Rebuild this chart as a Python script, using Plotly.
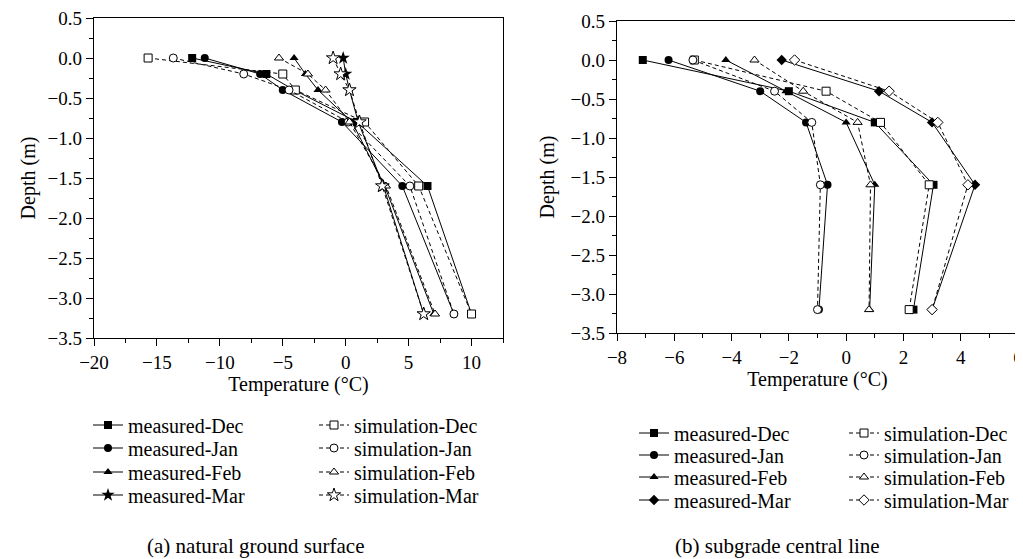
import plotly.graph_objects as go
from plotly.subplots import make_subplots

# (a) natural ground surface
depth_a = [0, -0.2, -0.4, -0.8, -1.6, -3.2]
meas_dec_a = [-12.2, -6.3, -4.1, 0.9, 6.5, 10.0]
sim_dec_a = [-15.7, -5.0, -4.0, 1.5, 5.8, 10.0]
meas_jan_a = [-11.2, -6.8, -5.0, -0.3, 4.5, 8.6]
sim_jan_a = [-13.7, -8.1, -4.5, 0.2, 5.1, 8.6]
meas_feb_a = [-4.1, -3.2, -2.2, 0.5, 3.1, 7.0]
sim_feb_a = [-5.3, -3.0, -1.6, 0.3, 3.2, 7.1]
meas_mar_a = [-0.2, 0.0, 0.3, 1.0, 3.0, 6.2]
sim_mar_a = [-1.0, -0.4, 0.3, 1.1, 2.9, 6.2]

# (b) subgrade central line
depth_b = [0, -0.4, -0.8, -1.6, -3.2]
meas_dec_b = [-7.1, -2.0, 1.0, 3.05, 2.35]
sim_dec_b = [-5.3, -0.7, 1.2, 2.9, 2.2]
meas_jan_b = [-6.2, -3.0, -1.4, -0.65, -0.95]
sim_jan_b = [-5.35, -2.5, -1.2, -0.9, -1.0]
meas_feb_b = [-4.2, -2.1, 0.0, 1.0, 0.82]
sim_feb_b = [-3.2, -1.5, 0.4, 0.85, 0.8]
meas_mar_b = [-2.25, 1.15, 3.0, 4.5, 3.0]
sim_mar_b = [-1.8, 1.5, 3.2, 4.25, 3.0]

months = ["Dec", "Jan", "Feb", "Mar"]
sym_a = ["square", "circle", "triangle-up", "star"]
sym_b = ["square", "circle", "triangle-up", "diamond"]

FONT = "Liberation Serif"
# the page body has an 8px margin, so the figure is 8px smaller each way
OFF = 8
W, H = 1023 - OFF, 559 - OFF


def fx(px):
    return (px - OFF) / W


def fy(py):
    return 1 - (py - OFF) / H


fig = make_subplots(rows=1, cols=2)

# one small legend per entry, so each row sits where the reference has it
legends = {}
leg_count = [1]


def new_legend(x_px, y_px):
    leg_count[0] += 1
    key = "legend%d" % leg_count[0]
    legends[key] = dict(x=fx(x_px), y=fy(y_px), xanchor="left", yanchor="middle",
                        font=dict(family=FONT, size=20, color="black"),
                        bgcolor="rgba(0,0,0,0)", itemwidth=30)
    return key


def add_series(x_meas, x_sim, depth, symbols, col, lx_m, lx_s, rows_y):
    # measured first, simulation on top (open markers cover filled ones)
    for m, xv, s, ry in zip(months, x_meas, symbols, rows_y):
        fig.add_trace(go.Scatter(
            x=xv, y=depth, mode="lines+markers", name="measured-" + m,
            line=dict(color="black", width=1),
            marker=dict(symbol=s, size=10 if s == "star" else 8, color="black"),
            legend=new_legend(lx_m, ry)), row=1, col=col)
    for m, xv, s, ry in zip(months, x_sim, symbols, rows_y):
        fig.add_trace(go.Scatter(
            x=xv, y=depth, mode="lines+markers", name="simulation-" + m,
            line=dict(color="black", width=1, dash="4px,3px"),
            marker=dict(symbol=s, size=10 if s == "star" else 8, color="white",
                        line=dict(color="black", width=1)),
            legend=new_legend(lx_s, ry)), row=1, col=col)


add_series([meas_dec_a, meas_jan_a, meas_feb_a, meas_mar_a],
           [sim_dec_a, sim_jan_a, sim_feb_a, sim_mar_a],
           depth_a, sym_a, 1, 88, 314, [425, 448, 472, 495])
add_series([meas_dec_b, meas_jan_b, meas_feb_b, meas_mar_b],
           [sim_dec_b, sim_jan_b, sim_feb_b, sim_mar_b],
           depth_b, sym_b, 2, 634, 844, [433, 455, 477, 500])

axis_common = dict(showline=True, linecolor="black", linewidth=1.3, mirror=True,
                   ticks="outside", ticklen=7, tickcolor="black", showgrid=False,
                   zeroline=False, automargin=False, ticklabeloverflow="allow",
                   tickfont=dict(family=FONT, size=19, color="black"),
                   title_font=dict(family=FONT, size=20, color="black"))

fig.update_xaxes(axis_common)
fig.update_yaxes(axis_common)

fig.update_xaxes(range=[-20, 12.5], dtick=5, tick0=0,
                 minor=dict(ticks="outside", dtick=2.5, ticklen=4, tickcolor="black"),
                 title_text="Temperature (°C)", title_standoff=2,
                 domain=[fx(94), fx(503)], row=1, col=1)
fig.update_xaxes(range=[-8, 6], dtick=2, tick0=0,
                 minor=dict(ticks="outside", dtick=1, ticklen=4, tickcolor="black"),
                 title_text="Temperature (°C)", title_standoff=2,
                 domain=[fx(617), fx(1018)], row=1, col=2)
fig.update_yaxes(range=[-3.5, 0.5], dtick=0.5, tickformat=".1f",
                 minor=dict(ticks="outside", dtick=0.25, ticklen=4, tickcolor="black"),
                 title_text="Depth (m)", title_standoff=6,
                 domain=[fy(338), fy(18)], row=1, col=1)
fig.update_yaxes(range=[-3.5, 0.5], dtick=0.5, tickformat=".1f",
                 minor=dict(ticks="outside", dtick=0.25, ticklen=4, tickcolor="black"),
                 title_text="Depth (m)", title_standoff=10,
                 domain=[fy(333), fy(21)], row=1, col=2)

fig.update_layout(
    width=W, height=H,
    margin=dict(l=0, r=0, t=0, b=0),
    plot_bgcolor="white", paper_bgcolor="white",
    font=dict(family=FONT, color="black"),
    annotations=[
        dict(text="(a) natural ground surface", x=fx(255), y=fy(546),
             xref="paper", yref="paper", showarrow=False, xanchor="center",
             yanchor="middle", font=dict(family=FONT, size=21, color="black")),
        dict(text="(b) subgrade central line", x=fx(777), y=fy(546),
             xref="paper", yref="paper", showarrow=False, xanchor="center",
             yanchor="middle", font=dict(family=FONT, size=21, color="black")),
    ],
    **legends,
)

fig.write_html("out.html")
